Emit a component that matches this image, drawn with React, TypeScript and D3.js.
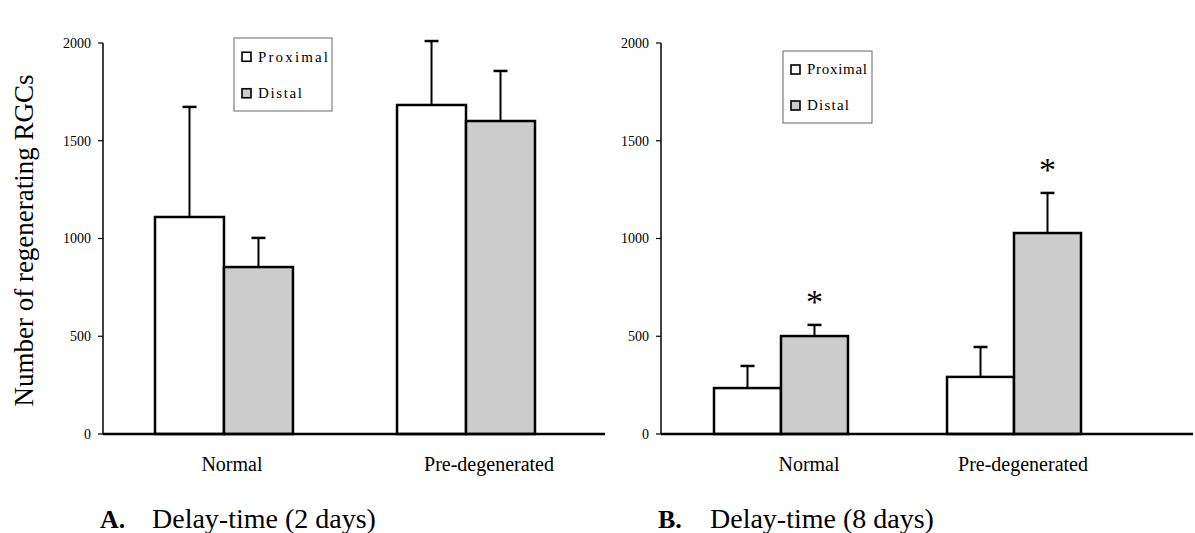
import React from "react"
import * as d3 from "d3"

// values
const categories = ["Normal", "Pre-degenerated"]
const series = ["Proximal", "Distal"]
const yTicks = [0, 500, 1000, 1500, 2000]

// panel A: delay-time 2 days
const aProximal = [1110, 1683]
const aProximalErr = [563, 327]
const aDistal = [854, 1601]
const aDistalErr = [149, 256]

// panel B: delay-time 8 days
const bProximal = [235, 292]
const bProximalErr = [113, 153]
const bDistal = [501, 1028]
const bDistalErr = [57, 205]
const bDistalSig = [true, true]

const W = 1195
const H = 533
const font = "'Liberation Serif', 'DejaVu Serif', serif"

const y = d3.scaleLinear().domain([0, 2000]).range([434, 43])

function Panel(props) {
  const { axisX, axisEnd, bandRange, padInner, prox, proxErr, dist, distErr, sig, legend, letter, title, labelDx } = props
  const x0 = d3.scaleBand().domain(categories).range(bandRange).paddingInner(padInner)
  const x1 = d3.scaleBand().domain(series).range([0, x0.bandwidth()])
  const vals = { Proximal: prox, Distal: dist }
  const errs = { Proximal: proxErr, Distal: distErr }
  const fills = { Proximal: "#ffffff", Distal: "#cccccc" }

  return (
    <g>
      {/* y axis */}
      <line x1={axisX} x2={axisX} y1={y(2000)} y2={y(0)} stroke="#000" strokeWidth={1.5} />
      {yTicks.map(t => (
        <g key={t}>
          <line x1={axisX - 5} x2={axisX} y1={y(t)} y2={y(t)} stroke="#000" strokeWidth={1.2} />
          <text x={axisX - 12} y={y(t)} dy="0.35em" textAnchor="end" fontSize={14} fontFamily={font}>{t}</text>
        </g>
      ))}

      {/* bars */}
      {categories.map((c, i) => (
        <g key={c} transform={`translate(${x0(c)},0)`}>
          {series.map(s => {
            const v = vals[s][i]
            const e = errs[s][i]
            const cx = x1(s) + x1.bandwidth() / 2
            return (
              <g key={s}>
                <line x1={cx} x2={cx} y1={y(v)} y2={y(v + e)} stroke="#000" strokeWidth={2} />
                <line x1={cx - 7} x2={cx + 7} y1={y(v + e)} y2={y(v + e)} stroke="#000" strokeWidth={2.5} />
                <rect x={x1(s)} y={y(v)} width={x1.bandwidth()} height={y(0) - y(v)} fill={fills[s]} stroke="#000" strokeWidth={2.5} />
                {s === "Distal" && sig && sig[i] ? (
                  <text x={cx} y={y(v + e) - 12} textAnchor="middle" fontSize={34} fontFamily={font}>*</text>
                ) : null}
              </g>
            )
          })}
          <text x={x0.bandwidth() / 2 + labelDx[i]} y={471} textAnchor="middle" fontSize={20} fontFamily={font}>{c}</text>
        </g>
      ))}

      {/* x axis */}
      <line x1={axisX} x2={axisEnd} y1={y(0)} y2={y(0)} stroke="#000" strokeWidth={2.5} />

      {/* legend */}
      <g transform={`translate(${legend.x},${legend.y})`}>
        <rect x={0} y={0} width={legend.w} height={legend.h} fill="#fff" stroke="#666" strokeWidth={1} />
        {series.map((s, i) => (
          <g key={s} transform={`translate(0,${legend.h * (0.25 + 0.5 * i)})`}>
            <rect x={8} y={-4} width={9} height={9} fill={fills[s]} stroke="#000" strokeWidth={1.6} />
            <text x={24} y={0} dy="0.35em" fontSize={15} fontFamily={font}
              textLength={legend.textW[i]} lengthAdjust="spacing">{s}</text>
          </g>
        ))}
      </g>

      {/* panel title */}
      <text x={axisX - 3} y={528} fontSize={26} fontWeight="bold" fontFamily={font}>{letter}</text>
      <text x={axisX + 49} y={528} fontSize={28} fontFamily={font}>{title}</text>
    </g>
  )
}

export default function App() {
  return (
    <svg width={W} height={H} style={{ position: "absolute", left: 0, top: 0, background: "#fff" }}>
      <rect width={W} height={H} fill="#fff" />
      <text transform={`translate(33,${(y(0) + y(2000)) / 2 + 2}) rotate(-90)`} textAnchor="middle" fontSize={27} fontFamily={font}>
        Number of regenerating RGCs
      </text>
      <Panel
        axisX={103} axisEnd={605} bandRange={[155, 535]} padInner={0.43}
        prox={aProximal} proxErr={aProximalErr} dist={aDistal} distErr={aDistalErr}
        legend={{ x: 234, y: 38, w: 98, h: 73, textW: [70, 44] }}
        letter="A." title="Delay-time (2 days)" labelDx={[8, 23]}
      />
      <Panel
        axisX={661} axisEnd={1193} bandRange={[714, 1081]} padInner={0.425}
        prox={bProximal} proxErr={bProximalErr} dist={bDistal} distErr={bDistalErr} sig={bDistalSig}
        legend={{ x: 783, y: 51, w: 89, h: 72, textW: [60, 42] }}
        letter="B." title="Delay-time (8 days)" labelDx={[28, 9]}
      />
    </svg>
  )
}
